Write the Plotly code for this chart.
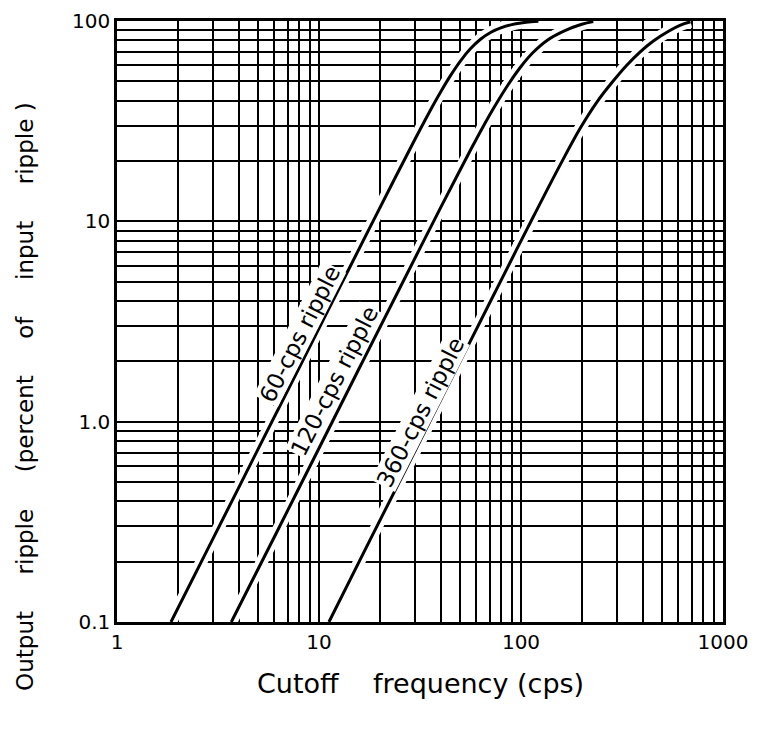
import math
import plotly.graph_objects as go

# ---- data ----
fc_60 = [1.85, 3.0, 5.0, 8.0, 12.0, 18.0, 24.0, 30.0, 35.0, 40.0, 45.0, 50.0, 56.0,
         63.0, 71.0, 80.0, 90.0, 100.0, 112.0, 122.0]
ripple_60 = [0.10, 0.263, 0.731, 1.87, 4.21, 9.46, 16.75, 25.9, 34.75, 44.2, 53.8, 62.9, 72.4,
             81.1, 87.9, 92.7, 95.9, 97.8, 99.2, 99.7]

fc_120 = [3.68, 6.0, 10.0, 16.0, 24.0, 32.0, 40.0, 48.0, 56.0, 64.0, 74.0, 86.0, 100.0,
          115.0, 135.0, 165.0, 200.0, 228.0]
ripple_120 = [0.10, 0.265, 0.737, 1.89, 4.24, 7.52, 11.7, 16.7, 22.5, 28.9, 37.4, 47.8, 59.3,
              69.8, 80.2, 89.5, 96.3, 99.3]

fc_360 = [11.2, 18.0, 30.0, 50.0, 75.0, 108.0, 157.0, 197.0, 238.0, 282.0, 333.0, 388.0,
          452.0, 540.0, 612.0, 690.0]
ripple_360 = [0.10, 0.26, 0.72, 2.0, 4.5, 9.3, 19.3, 29.3, 39.5, 49.3, 60.0, 70.0,
              79.5, 89.2, 95.2, 99.1]

curve_labels = ["60-cps ripple", "120-cps ripple", "360-cps ripple"]
label_x = [8.04, 11.9, 31.8]      # cutoff frequency at label centre
label_y = [2.74, 1.60, 1.12]      # ripple at label centre

x_tick_vals = [1, 10, 100, 1000]
x_tick_text = ["1", "10", "100", "1000"]
y_tick_vals = [0.1, 1, 10, 100]
y_tick_text = ["0.1", "1.0", "10", "100"]

x_grid = [m * d for d in (1, 10, 100) for m in range(1, 10)] + [1000]
y_grid = [round(m * d, 6) for d in (0.1, 1, 10) for m in range(1, 10)] + [100]


def tick_text(grid, vals, texts):
    out = []
    for g in grid:
        t = ""
        for v, s in zip(vals, texts):
            if abs(g - v) < 1e-6 * max(1, v):
                t = s
        out.append(t)
    return out


curves = [(fc_60, ripple_60), (fc_120, ripple_120), (fc_360, ripple_360)]

fig = go.Figure()
# white halo under curves (gaps in the grid lines, as in the original)
for fx, ry in curves:
    fig.add_trace(go.Scatter(x=fx, y=ry, mode="lines",
                             line=dict(color="white", width=12, shape="spline", smoothing=1.0),
                             hoverinfo="skip", showlegend=False))
for fx, ry in curves:
    fig.add_trace(go.Scatter(x=fx, y=ry, mode="lines",
                             line=dict(color="black", width=3, shape="spline", smoothing=1.0),
                             showlegend=False))

for txt, lx, ly in zip(curve_labels, label_x, label_y):
    fig.add_annotation(x=math.log10(lx), y=math.log10(ly), text=txt,
                       showarrow=False, textangle=-63, bgcolor="white", borderpad=0,
                       font=dict(family="DejaVu Sans", size=23, color="black"))

sp = "\u00a0" * 5
fig.add_annotation(xref="paper", yref="paper", x=-0.152, y=0.376, xanchor="center", yanchor="middle",
                   text="Output" + sp + "ripple" + sp + "(percent" + sp + "of" + sp + "input" + sp + "ripple\u00a0)",
                   showarrow=False, textangle=-90,
                   font=dict(family="DejaVu Sans", size=23, color="black"))
fig.add_annotation(xref="paper", yref="paper", x=0.5, y=-0.1015, xanchor="center", yanchor="middle",
                   text="Cutoff" + "\u00a0" * 4 + "frequency\u00a0(cps)",
                   showarrow=False,
                   font=dict(family="DejaVu Sans", size=27, color="black"))

axis_style = dict(type="log", showgrid=True, gridcolor="black", gridwidth=1.6,
                  showline=True, linecolor="black", linewidth=2.5, mirror=True,
                  ticks="", zeroline=False, automargin=False,
                  tickfont=dict(family="DejaVu Sans", size=20, color="black"))
fig.update_xaxes(range=[0, 3], tickvals=x_grid,
                 ticktext=tick_text(x_grid, x_tick_vals, x_tick_text), **axis_style)
fig.update_yaxes(range=[-1, 2], tickvals=y_grid,
                 ticktext=tick_text(y_grid, y_tick_vals, y_tick_text), **axis_style)

# page body has an 8px margin; size/margins chosen so the plot area sits where the original's does
fig.update_layout(width=748, height=716, margin=dict(l=109, r=33, t=13, b=102),
                  plot_bgcolor="white", paper_bgcolor="white", showlegend=False)

fig.write_html("out.html")
